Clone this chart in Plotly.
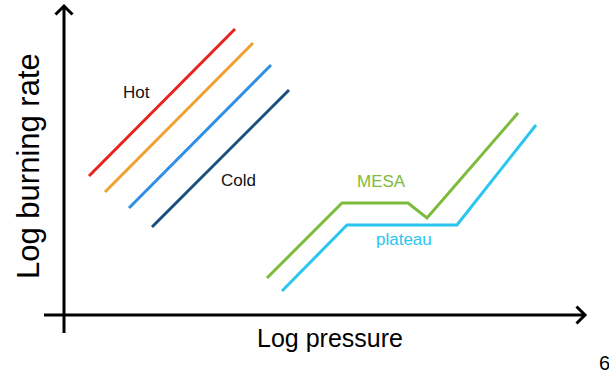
import plotly.graph_objects as go

# Schematic burning-rate curves (arbitrary log units; origin at the axes' corner)
hot_x = [0.50, 3.42]
hot_y = [2.78, 5.72]
warm_x = [0.82, 3.78]
warm_y = [2.46, 5.44]
cool_x = [1.30, 4.14]
cool_y = [2.14, 5.00]
cold_x = [1.76, 4.50]
cold_y = [1.76, 4.50]

mesa_x = [4.06, 5.56, 6.88, 7.26, 9.08]
mesa_y = [0.74, 2.24, 2.24, 1.94, 4.04]
plateau_x = [4.36, 5.66, 7.86, 9.44]
plateau_y = [0.48, 1.80, 1.80, 3.80]

series = [
    (hot_x, hot_y, "#e8231f"),
    (warm_x, warm_y, "#f0a030"),
    (cool_x, cool_y, "#2f8ee6"),
    (cold_x, cold_y, "#1b4f80"),
    (mesa_x, mesa_y, "#7cbb3c"),
    (plateau_x, plateau_y, "#2bc6ef"),
]

fig = go.Figure()
for xs, ys, col in series:
    fig.add_trace(go.Scatter(x=xs, y=ys, mode="lines",
                             line=dict(color=col, width=3), hoverinfo="skip"))

# Hand-drawn style axes with open chevron arrowheads
x_end, y_end = 10.42, 6.18
arm = 0.17
axis_line = dict(color="black", width=3)
shapes = [
    dict(type="line", x0=-0.40, y0=0, x1=x_end, y1=0, line=axis_line),
    dict(type="line", x0=0, y0=-0.36, x1=0, y1=y_end, line=axis_line),
    dict(type="path",
         path=f"M {x_end-arm},{arm} L {x_end},0 L {x_end-arm},{-arm}",
         line=axis_line),
    dict(type="path",
         path=f"M {-arm},{y_end-arm} L 0,{y_end} L {arm},{y_end-arm}",
         line=axis_line),
]

font = "Liberation Sans, Arial, Helvetica, sans-serif"
labels = [
    ("Hot", 1.44, 4.46, "#111111"),
    ("Cold", 3.48, 2.70, "#111111"),
    ("MESA", 6.34, 2.68, "#7cbb3c"),
    ("plateau", 6.80, 1.52, "#2bc6ef"),
]
annotations = [
    dict(text=t, x=x, y=y, xref="x", yref="y", showarrow=False,
         xanchor="center", yanchor="middle",
         font=dict(family=font, size=17, color=c))
    for t, x, y, c in labels
]
annotations += [
    dict(text="Log pressure", x=330 / 609, y=1 - 338 / 379, xref="paper",
         yref="paper", showarrow=False, xanchor="center", yanchor="middle",
         font=dict(family=font, size=25, color="black")),
    dict(text="Log burning rate", x=29 / 609, y=1 - 166 / 379, xref="paper",
         yref="paper", showarrow=False, textangle=-90,
         xanchor="center", yanchor="middle",
         font=dict(family=font, size=31, color="black")),
    dict(text="6", x=604 / 609, y=1 - 363 / 379, xref="paper",
         yref="paper", showarrow=False, xanchor="center", yanchor="middle",
         font=dict(family=font, size=20, color="black")),
]

fig.update_layout(
    width=609, height=379,
    margin=dict(l=0, r=0, t=0, b=0),
    paper_bgcolor="white", plot_bgcolor="white",
    showlegend=False,
    xaxis=dict(range=[-1.28, 10.90], visible=False, fixedrange=True),
    yaxis=dict(range=[-1.28, 6.30], visible=False, fixedrange=True),
    shapes=shapes,
    annotations=annotations,
)

fig.write_html("out.html")
